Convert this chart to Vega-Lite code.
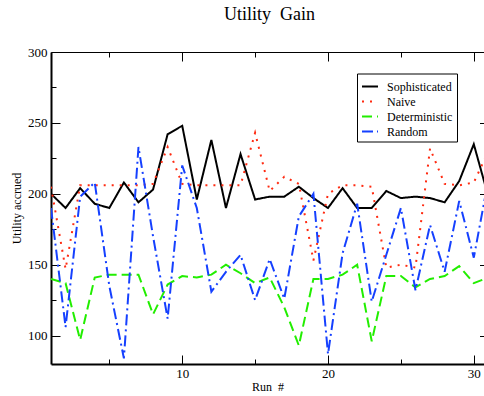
{
  "$schema": "https://vega.github.io/schema/vega-lite/v6.json",
  "width": 433,
  "height": 312,
  "autosize": {"type": "none"},
  "padding": {"left": 51, "top": 52, "right": 0, "bottom": 32},
  "background": "white",
  "view": {"stroke": null},
  "title": {"text": "Utility \u00a0Gain", "font": "Liberation Serif", "fontSize": 18, "fontWeight": "normal", "color": "black", "anchor": "middle", "frame": "group", "baseline": "alphabetic", "offset": 8, "dx": 2},
  "config": {
    "font": "Liberation Serif",
    "legend": {"labelFont": "Liberation Serif", "labelFontSize": 12, "labelColor": "black", "rowPadding": 0}
  },
  "data": {"values": [
    {"run":1,"series":"Sophisticated","utility":200},{"run":2,"series":"Sophisticated","utility":190},{"run":3,"series":"Sophisticated","utility":204},{"run":4,"series":"Sophisticated","utility":193},{"run":5,"series":"Sophisticated","utility":190},{"run":6,"series":"Sophisticated","utility":208},{"run":7,"series":"Sophisticated","utility":194},{"run":8,"series":"Sophisticated","utility":203},{"run":9,"series":"Sophisticated","utility":242},{"run":10,"series":"Sophisticated","utility":248},{"run":11,"series":"Sophisticated","utility":196},{"run":12,"series":"Sophisticated","utility":238},{"run":13,"series":"Sophisticated","utility":190},{"run":14,"series":"Sophisticated","utility":228},{"run":15,"series":"Sophisticated","utility":196},{"run":16,"series":"Sophisticated","utility":198},{"run":17,"series":"Sophisticated","utility":198},{"run":18,"series":"Sophisticated","utility":205},{"run":19,"series":"Sophisticated","utility":197},{"run":20,"series":"Sophisticated","utility":190},{"run":21,"series":"Sophisticated","utility":204},{"run":22,"series":"Sophisticated","utility":190},{"run":23,"series":"Sophisticated","utility":190},{"run":24,"series":"Sophisticated","utility":202},{"run":25,"series":"Sophisticated","utility":197},{"run":26,"series":"Sophisticated","utility":198},{"run":27,"series":"Sophisticated","utility":197},{"run":28,"series":"Sophisticated","utility":194},{"run":29,"series":"Sophisticated","utility":209},{"run":30,"series":"Sophisticated","utility":235},{"run":31,"series":"Sophisticated","utility":198},
    {"run":1,"series":"Naive","utility":205},{"run":2,"series":"Naive","utility":147},{"run":3,"series":"Naive","utility":206},{"run":4,"series":"Naive","utility":206},{"run":5,"series":"Naive","utility":206},{"run":6,"series":"Naive","utility":206},{"run":7,"series":"Naive","utility":206},{"run":8,"series":"Naive","utility":207},{"run":9,"series":"Naive","utility":233},{"run":10,"series":"Naive","utility":207},{"run":11,"series":"Naive","utility":206},{"run":12,"series":"Naive","utility":206},{"run":13,"series":"Naive","utility":206},{"run":14,"series":"Naive","utility":206},{"run":15,"series":"Naive","utility":243},{"run":16,"series":"Naive","utility":202},{"run":17,"series":"Naive","utility":212},{"run":18,"series":"Naive","utility":207},{"run":19,"series":"Naive","utility":153},{"run":20,"series":"Naive","utility":200},{"run":21,"series":"Naive","utility":206},{"run":22,"series":"Naive","utility":206},{"run":23,"series":"Naive","utility":205},{"run":24,"series":"Naive","utility":148},{"run":25,"series":"Naive","utility":150},{"run":26,"series":"Naive","utility":148},{"run":27,"series":"Naive","utility":232},{"run":28,"series":"Naive","utility":207},{"run":29,"series":"Naive","utility":206},{"run":30,"series":"Naive","utility":208},{"run":31,"series":"Naive","utility":230},
    {"run":1,"series":"Deterministic","utility":140},{"run":2,"series":"Deterministic","utility":137},{"run":3,"series":"Deterministic","utility":97},{"run":4,"series":"Deterministic","utility":141},{"run":5,"series":"Deterministic","utility":143},{"run":6,"series":"Deterministic","utility":143},{"run":7,"series":"Deterministic","utility":143},{"run":8,"series":"Deterministic","utility":115},{"run":9,"series":"Deterministic","utility":136},{"run":10,"series":"Deterministic","utility":142},{"run":11,"series":"Deterministic","utility":141},{"run":12,"series":"Deterministic","utility":143},{"run":13,"series":"Deterministic","utility":150},{"run":14,"series":"Deterministic","utility":144},{"run":15,"series":"Deterministic","utility":137},{"run":16,"series":"Deterministic","utility":141},{"run":17,"series":"Deterministic","utility":120},{"run":18,"series":"Deterministic","utility":93},{"run":19,"series":"Deterministic","utility":140},{"run":20,"series":"Deterministic","utility":140},{"run":21,"series":"Deterministic","utility":143},{"run":22,"series":"Deterministic","utility":150},{"run":23,"series":"Deterministic","utility":96},{"run":24,"series":"Deterministic","utility":142},{"run":25,"series":"Deterministic","utility":142},{"run":26,"series":"Deterministic","utility":134},{"run":27,"series":"Deterministic","utility":140},{"run":28,"series":"Deterministic","utility":142},{"run":29,"series":"Deterministic","utility":149},{"run":30,"series":"Deterministic","utility":137},{"run":31,"series":"Deterministic","utility":141},
    {"run":1,"series":"Random","utility":190},{"run":2,"series":"Random","utility":106},{"run":3,"series":"Random","utility":198},{"run":4,"series":"Random","utility":208},{"run":5,"series":"Random","utility":135},{"run":6,"series":"Random","utility":84},{"run":7,"series":"Random","utility":233},{"run":8,"series":"Random","utility":170},{"run":9,"series":"Random","utility":112},{"run":10,"series":"Random","utility":220},{"run":11,"series":"Random","utility":190},{"run":12,"series":"Random","utility":131},{"run":13,"series":"Random","utility":145},{"run":14,"series":"Random","utility":157},{"run":15,"series":"Random","utility":125},{"run":16,"series":"Random","utility":154},{"run":17,"series":"Random","utility":126},{"run":18,"series":"Random","utility":184},{"run":19,"series":"Random","utility":200},{"run":20,"series":"Random","utility":87},{"run":21,"series":"Random","utility":158},{"run":22,"series":"Random","utility":193},{"run":23,"series":"Random","utility":124},{"run":24,"series":"Random","utility":157},{"run":25,"series":"Random","utility":190},{"run":26,"series":"Random","utility":132},{"run":27,"series":"Random","utility":178},{"run":28,"series":"Random","utility":145},{"run":29,"series":"Random","utility":195},{"run":30,"series":"Random","utility":155},{"run":31,"series":"Random","utility":210}
  ]},
  "layer": [
    {
      "mark": {"type": "line", "clip": true, "strokeWidth": 2, "strokeJoin": "miter"},
      "encoding": {
        "x": {"field": "run", "type": "quantitative",
          "scale": {"domain": [1, 30.7], "nice": false, "zero": false},
          "axis": {"orient": "bottom", "offset": 0, "values": [10,20,30], "grid": false,
            "labelFont": "Liberation Serif", "labelFontSize": 13, "labelColor": "black", "labelPadding": 12,
            "tickColor": "black", "tickWidth": 1, "tickSize": -9,
            "domainColor": "black", "domainWidth": 2,
            "title": "Run \u00a0#", "titleFont": "Liberation Serif", "titleFontSize": 12, "titleFontWeight": "normal", "titleColor": "black", "titlePadding": 1}},
        "y": {"field": "utility", "type": "quantitative",
          "scale": {"domain": [80, 300], "nice": false, "zero": false},
          "axis": {"orient": "left", "offset": 0, "values": [100,150,200,250,300], "grid": false,
            "labelFont": "Liberation Serif", "labelFontSize": 13, "labelColor": "black", "labelPadding": 13,
            "tickColor": "black", "tickWidth": 1, "tickSize": -9,
            "domainColor": "black", "domainWidth": 2,
            "title": "Utility accrued", "titleFont": "Liberation Serif", "titleFontSize": 12, "titleFontWeight": "normal", "titleColor": "black", "titlePadding": 4}},
        "color": {"field": "series", "type": "nominal",
          "scale": {"domain": ["Sophisticated","Naive","Deterministic","Random"], "range": ["#000000","#ff2a10","#22ee00","#1540ff"]},
          "legend": {"orient": "none", "legendX": 306, "legendY": 21.5, "title": null,
            "strokeColor": "black", "fillColor": "white", "padding": 4, "cornerRadius": 0,
            "symbolType": "stroke", "symbolSize": 256, "symbolStrokeWidth": 2, "symbolOffset": 0,
            "labelOffset": 8, "rowPadding": 0, "labelFont": "Liberation Serif", "labelFontSize": 12}},
        "strokeDash": {"field": "series", "type": "nominal",
          "scale": {"domain": ["Sophisticated","Naive","Deterministic","Random"], "range": [[1,0],[2,6],[10,5],[11,4,2,4]]},
          "legend": {"orient": "none", "legendX": 306, "legendY": 21.5, "title": null,
            "strokeColor": "black", "fillColor": "white", "padding": 4, "cornerRadius": 0,
            "symbolType": "stroke", "symbolSize": 256, "symbolStrokeWidth": 2, "symbolOffset": 0,
            "labelOffset": 8, "rowPadding": 0, "labelFont": "Liberation Serif", "labelFontSize": 12}}
      }
    },
    {
      "mark": {"type": "point", "opacity": 0},
      "encoding": {
        "x": {"field": "run", "type": "quantitative",
          "axis": {"orient": "top", "offset": 0, "values": [10,20,30], "labels": false, "title": null, "grid": false,
            "tickColor": "black", "tickWidth": 1, "tickSize": -9,
            "domainColor": "black", "domainWidth": 1.2}},
        "y": {"field": "utility", "type": "quantitative",
          "axis": {"orient": "right", "offset": 0, "values": [100,150,200,250,300], "labels": false, "title": null, "grid": false, "domain": false,
            "tickColor": "black", "tickWidth": 1, "tickSize": -4.5}}
      }
    },
    {
      "mark": {"type": "point", "opacity": 0},
      "encoding": {
        "x": {"field": "run", "type": "quantitative",
          "axis": {"orient": "bottom", "offset": 0, "values": [5,15,25], "labels": false, "title": null, "grid": false, "domain": false,
            "tickColor": "black", "tickWidth": 1, "tickSize": -5}},
        "y": {"field": "utility", "type": "quantitative",
          "axis": {"orient": "left", "offset": 0, "values": [125,175,225,275], "labels": false, "title": null, "grid": false, "domain": false,
            "tickColor": "black", "tickWidth": 1, "tickSize": -5}}
      }
    },
    {
      "mark": {"type": "point", "opacity": 0},
      "encoding": {
        "x": {"field": "run", "type": "quantitative",
          "axis": {"orient": "top", "offset": 0, "values": [5,15,25], "labels": false, "title": null, "grid": false, "domain": false,
            "tickColor": "black", "tickWidth": 1, "tickSize": -5}},
        "y": {"field": "utility", "type": "quantitative", "axis": null}
      }
    }
  ],
  "resolve": {"axis": {"x": "independent", "y": "independent"}}
}
